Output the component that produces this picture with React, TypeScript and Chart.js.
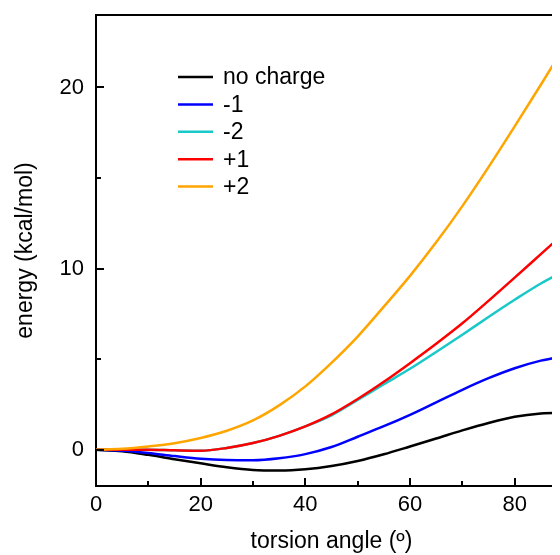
import { useEffect, useRef } from "react";
import { Chart, registerables } from "chart.js";

Chart.register(...registerables);

const angles = [0, 5, 10, 15, 20, 25, 30, 35, 40, 45, 50, 55, 60, 65, 70, 75, 80, 85, 90];
const noCharge = [0, -0.08, -0.28, -0.52, -0.75, -0.97, -1.12, -1.15, -1.08, -0.9, -0.62, -0.25, 0.18, 0.62, 1.07, 1.48, 1.82, 2.0, 2.05];
const minusOne = [0, -0.05, -0.18, -0.35, -0.5, -0.57, -0.58, -0.47, -0.24, 0.15, 0.72, 1.3, 1.93, 2.62, 3.31, 3.95, 4.5, 4.92, 5.2];
const minusTwo = [0, 0, 0, -0.03, -0.05, 0.1, 0.37, 0.77, 1.29, 1.9, 2.75, 3.62, 4.47, 5.4, 6.35, 7.33, 8.28, 9.18, 9.95];
const plusOne = [0, 0, 0, -0.03, -0.05, 0.1, 0.37, 0.77, 1.29, 1.95, 2.8, 3.75, 4.78, 5.85, 6.98, 8.22, 9.5, 10.8, 12.1];
const plusTwo = [0, 0.05, 0.18, 0.36, 0.65, 1.05, 1.62, 2.45, 3.5, 4.8, 6.25, 7.9, 9.6, 11.45, 13.45, 15.6, 17.85, 20.15, 22.5];

const seriesLabels = ["no charge", "-1", "-2", "+1", "+2"];
const seriesColors = ["#000000", "#0000ff", "#19c8c8", "#ff0000", "#ffa500"];
const seriesValues = [noCharge, minusOne, minusTwo, plusOne, plusTwo];
const seriesOrder = [4, 3, 2, 1, 0];

const xMajorTicks = [0, 20, 40, 60, 80];
const xMinorTicks = [10, 30, 50, 70, 90];
const yMajorTicks = [0, 10, 20];
const yMinorTicks = [5, 15];

const FONT = "'Liberation Sans', Arial, Helvetica, sans-serif";

const decorPlugin = {
  id: "decor",
  afterDatasetsDraw(chart: any) {
    const { ctx, chartArea } = chart;
    const xs = chart.scales.x;
    const ys = chart.scales.y;
    ctx.save();
    ctx.strokeStyle = "#000";
    ctx.lineWidth = 2;
    // top and right frame
    ctx.beginPath();
    ctx.moveTo(chartArea.left - 1, chartArea.top);
    ctx.lineTo(chartArea.right, chartArea.top);
    ctx.lineTo(chartArea.right, chartArea.bottom);
    ctx.stroke();
    // inward ticks
    ctx.beginPath();
    xMajorTicks.forEach((v) => {
      const p = Math.round(xs.getPixelForValue(v));
      ctx.moveTo(p, chartArea.bottom);
      ctx.lineTo(p, chartArea.bottom - 8);
    });
    xMinorTicks.forEach((v) => {
      const p = Math.round(xs.getPixelForValue(v));
      ctx.moveTo(p, chartArea.bottom);
      ctx.lineTo(p, chartArea.bottom - 5);
    });
    yMajorTicks.forEach((v) => {
      const p = Math.round(ys.getPixelForValue(v));
      ctx.moveTo(chartArea.left, p);
      ctx.lineTo(chartArea.left + 8, p);
    });
    yMinorTicks.forEach((v) => {
      const p = Math.round(ys.getPixelForValue(v));
      ctx.moveTo(chartArea.left, p);
      ctx.lineTo(chartArea.left + 5, p);
    });
    ctx.stroke();
    // legend
    ctx.font = `23px ${FONT}`;
    ctx.textBaseline = "middle";
    ctx.textAlign = "left";
    chart.data.datasets.forEach((ds: any, i: number) => {
      const y = chartArea.top + 62 + i * 27.4;
      ctx.strokeStyle = ds.borderColor;
      ctx.lineWidth = 2.5;
      ctx.beginPath();
      ctx.moveTo(chartArea.left + 82, y);
      ctx.lineTo(chartArea.left + 117, y);
      ctx.stroke();
      ctx.fillStyle = "#000";
      ctx.fillText(ds.label, chartArea.left + 127, y + 1);
    });
    ctx.restore();
  },
};

export default function App() {
  const ref = useRef<HTMLCanvasElement | null>(null);
  useEffect(() => {
    if (!ref.current) return;
    const chart = new Chart(ref.current, {
      type: "line",
      data: {
        datasets: seriesLabels.map((label, i) => ({
          label,
          data: angles.map((a, j) => ({ x: a, y: seriesValues[i][j] })),
          borderColor: seriesColors[i],
          backgroundColor: seriesColors[i],
          borderWidth: 2.5,
          pointRadius: 0,
          cubicInterpolationMode: "monotone" as const,
          fill: false,
          order: seriesOrder[i],
        })),
      },
      options: {
        animation: false,
        responsive: true,
        maintainAspectRatio: false,
        layout: { padding: { top: 7, right: 61, bottom: 0, left: 0 } },
        plugins: { legend: { display: false }, tooltip: { enabled: false } },
        scales: {
          x: {
            type: "linear",
            min: 0,
            max: 90,
            afterBuildTicks: (s: any) => {
              s.ticks = xMajorTicks.map((v) => ({ value: v }));
            },
            afterFit: (s: any) => {
              s.height = 69;
              s.paddingLeft = 0;
              s.paddingRight = 0;
            },
            grid: { display: false, drawTicks: false },
            border: { display: true, color: "#000", width: 2 },
            ticks: {
              color: "#000",
              padding: 6,
              autoSkip: false,
              maxRotation: 0,
              font: { family: FONT, size: 22 },
            },
            title: {
              display: true,
              text: "torsion angle (º)",
              color: "#000",
              font: { family: FONT, size: 23 },
              padding: { top: 0, bottom: 0 },
            },
          },
          y: {
            type: "linear",
            min: -2,
            max: 24,
            afterBuildTicks: (s: any) => {
              s.ticks = yMajorTicks.map((v) => ({ value: v }));
            },
            afterFit: (s: any) => {
              s.width = 88;
              s.paddingTop = 0;
              s.paddingBottom = 0;
            },
            grid: { display: false, drawTicks: false },
            border: { display: true, color: "#000", width: 2 },
            ticks: {
              color: "#000",
              padding: 12,
              autoSkip: false,
              font: { family: FONT, size: 22 },
            },
            title: {
              display: true,
              text: "energy (kcal/mol)",
              color: "#000",
              font: { family: FONT, size: 23 },
              padding: { top: 4, bottom: 0 },
            },
          },
        },
      },
      plugins: [decorPlugin],
    });
    return () => chart.destroy();
  }, []);

  return (
    <div style={{ width: 552, height: 547, overflow: "hidden", position: "relative" }}>
      <div style={{ width: 620, height: 547, position: "relative" }}>
        <canvas ref={ref} />
      </div>
    </div>
  );
}
